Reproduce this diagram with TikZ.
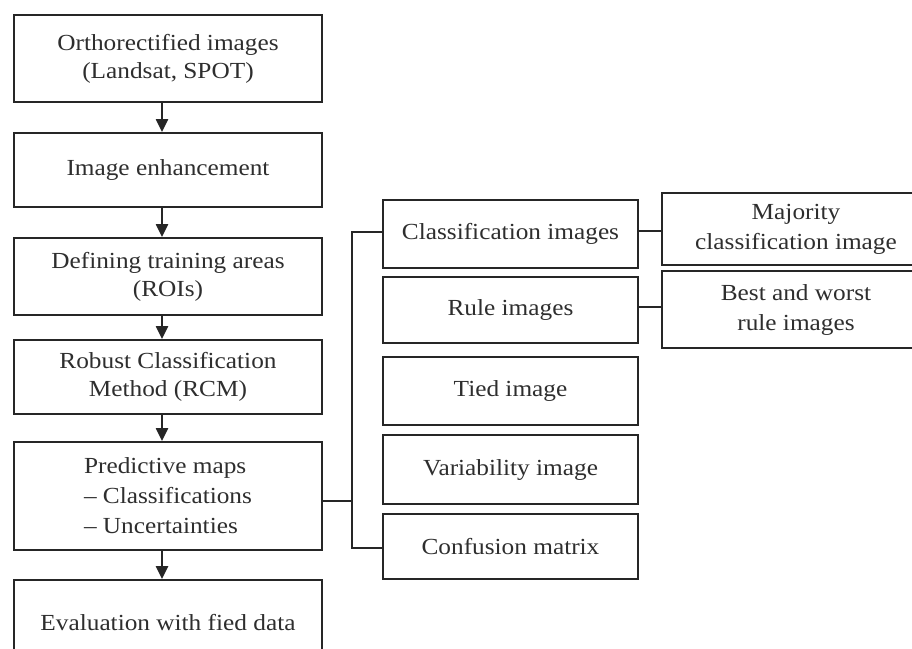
\documentclass[tikz,border=0pt]{standalone}
\usepackage{fontspec}
\setmainfont{Liberation Serif}[FakeStretch=1.1]
\usetikzlibrary{arrows.meta}
\definecolor{ink}{HTML}{262626}
\definecolor{txt}{HTML}{2E2E2E}
\tikzset{
  box/.style={draw=ink, line width=1.8pt, rectangle, inner sep=0pt, align=center,
    text=txt, font=\fontsize{23}{28}\selectfont},
  lbox/.style={box, minimum width=308pt},
  mbox/.style={box, minimum width=255pt},
  rbox/.style={box, minimum width=268pt},
  link/.style={draw=ink, line width=1.8pt},
  flow/.style={link, line width=2.2pt, -{Triangle[width=12pt,length=13pt]}}
}
\begin{document}
\begin{tikzpicture}[x=1pt,y=1pt]
\clip (0,0) rectangle (912,-648);
\fill[white] (0,0) rectangle (912,-648);
% left column
\node[lbox, minimum height=87pt] (b1) at (168,-58.5) {\fontsize{23}{25}\selectfont Orthorectified images\\(Landsat, SPOT)};
\node[lbox, minimum height=74pt] (b2) at (168,-170) {Image enhancement};
\node[lbox, minimum height=77pt] (b3) at (168,-276.5) {Defining training areas\\(ROIs)};
\node[lbox, minimum height=74pt] (b4) at (168,-377) {Robust Classification\\Method (RCM)};
\node[lbox, minimum height=108pt, align=left, font=\fontsize{23}{30}\selectfont] (b5) at (168,-496) {Predictive maps\\-- Classifications\\-- Uncertainties};
\node[lbox, minimum height=86pt] (b6) at (168,-623) {Evaluation with fied data};
% middle column
\node[mbox, minimum height=68pt] (m1) at (510.5,-234) {Classification images};
\node[mbox, minimum height=66pt] (m2) at (510.5,-310) {Rule images};
\node[mbox, minimum height=68pt] (m3) at (510.5,-391) {Tied image};
\node[mbox, minimum height=69pt] (m4) at (510.5,-469.5) {Variability image};
\node[mbox, minimum height=65pt] (m5) at (510.5,-546.5) {Confusion matrix};
% right column
\node[rbox, minimum height=72pt, font=\fontsize{23}{30}\selectfont] (r1) at (796,-229) {Majority\\classification image};
\node[rbox, minimum height=77pt, font=\fontsize{23}{30}\selectfont] (r2) at (796,-309.5) {Best and worst\\rule images};
% flow arrows
\draw[flow] ([xshift=-6pt]b1.south) -- ([xshift=-6pt]b2.north);
\draw[flow] ([xshift=-6pt]b2.south) -- ([xshift=-6pt]b3.north);
\draw[flow] ([xshift=-6pt]b3.south) -- ([xshift=-6pt]b4.north);
\draw[flow] ([xshift=-6pt]b4.south) -- ([xshift=-6pt]b5.north);
\draw[flow] ([xshift=-6pt]b5.south) -- ([xshift=-6pt]b6.north);
% bracket
\coordinate (bx) at (352,0);
\draw[link] ([yshift=-5pt]b5.east) -- ([yshift=-5pt]b5.east -| bx);
\draw[link] ([yshift=2pt]m1.west) -- ([yshift=2pt]m1.west -| bx) -- ([yshift=-1.5pt]m5.west -| bx) -- ([yshift=-1.5pt]m5.west);
% right links
\draw[link] ([yshift=3pt]m1.east) -- ([yshift=3pt]m1.east -| r1.west);
\draw[link] ([yshift=3pt]m2.east) -- ([yshift=3pt]m2.east -| r2.west);
\end{tikzpicture}
\end{document}
